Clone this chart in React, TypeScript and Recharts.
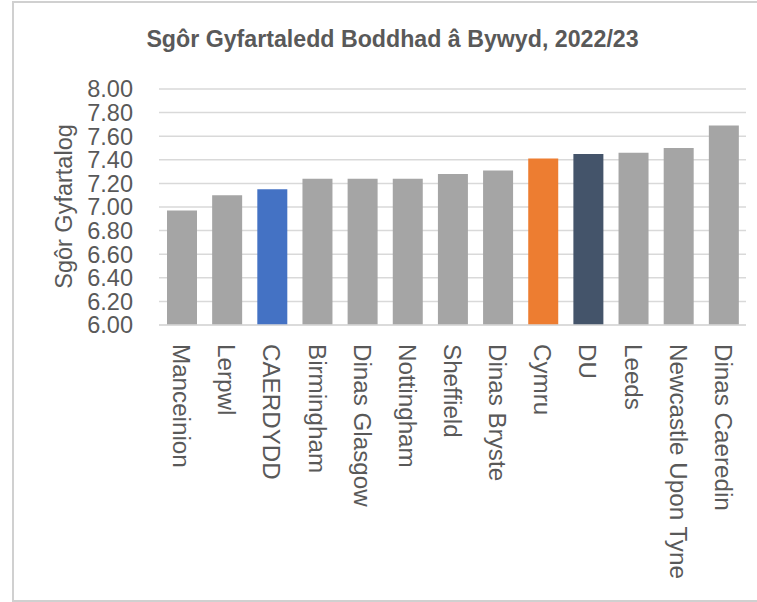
import React from 'react';
import { BarChart, Bar, XAxis, YAxis, CartesianGrid, Cell } from 'recharts';

const categories = [
  'Manceinion', 'Lerpwl', 'CAERDYDD', 'Birmingham', 'Dinas Glasgow', 'Nottingham',
  'Sheffield', 'Dinas Bryste', 'Cymru', 'DU', 'Leeds', 'Newcastle Upon Tyne', 'Dinas Caeredin',
];
const scores = [6.97, 7.10, 7.15, 7.24, 7.24, 7.24, 7.28, 7.31, 7.41, 7.45, 7.46, 7.50, 7.69];
const barColors = [
  '#A5A5A5', '#A5A5A5', '#4472C4', '#A5A5A5', '#A5A5A5', '#A5A5A5',
  '#A5A5A5', '#A5A5A5', '#ED7D31', '#44546A', '#A5A5A5', '#A5A5A5', '#A5A5A5',
];
const yTicks = [6.0, 6.2, 6.4, 6.6, 6.8, 7.0, 7.2, 7.4, 7.6, 7.8, 8.0];
const chartTitle = 'Sgôr Gyfartaledd Boddhad â Bywyd, 2022/23';
const yAxisTitle = 'Sgôr Gyfartalog';

const data = categories.map((name, i) => ({ name, value: scores[i], color: barColors[i] }));

const FONT = '"Liberation Sans", Arial, sans-serif';
const TEXT = '#595959';

const XTick = (props: any) => {
  const { x, y, payload } = props;
  return (
    <text
      transform={`translate(${x},${y}) rotate(90)`}
      x={0}
      y={0}
      dy="0.35em"
      textAnchor="start"
      fontFamily={FONT}
      fontSize={24.2}
      fill={TEXT}
    >
      {payload.value}
    </text>
  );
};

const YTick = (props: any) => {
  const { x, y, payload } = props;
  return (
    <text x={x} y={y} dy="0.36em" textAnchor="end" fontFamily={FONT} fontSize={23.5} fill={TEXT}>
      {Number(payload.value).toFixed(2)}
    </text>
  );
};

export default function App() {
  return (
    <div style={{ position: 'absolute', left: 0, top: 0, width: 757, height: 602, background: '#fff' }}>
      <BarChart
        width={757}
        height={602}
        data={data}
        margin={{ top: 89, right: 11, bottom: 0, left: 0 }}
        barSize={30}
      >
        <CartesianGrid vertical={false} stroke="#D9D9D9" strokeWidth={1.5} />
        <XAxis
          dataKey="name"
          height={277}
          interval={0}
          tickLine={false}
          tickSize={0}
          tickMargin={19}
          axisLine={{ stroke: '#D9D9D9', strokeWidth: 1.5 }}
          tick={<XTick />}
        />
        <YAxis
          width={159}
          domain={[6, 8]}
          ticks={yTicks}
          interval={0}
          axisLine={false}
          tickLine={false}
          tickSize={0}
          tickMargin={26}
          tick={<YTick />}
          label={{
            content: () => (
              <text
                transform="translate(72,206.5) rotate(-90)"
                x={0}
                y={0}
                textAnchor="middle"
                fontFamily={FONT}
                fontSize={23.5}
                fill={TEXT}
              >
                {yAxisTitle}
              </text>
            ),
          }}
        />
        <Bar dataKey="value" isAnimationActive={false}>
          {data.map((d, i) => (
            <Cell key={i} fill={d.color} />
          ))}
        </Bar>
      </BarChart>
      <svg
        width={757}
        height={602}
        style={{ position: 'absolute', left: 0, top: 0, pointerEvents: 'none' }}
      >
        <rect x={13} y={2} width={800} height={599} fill="none" stroke="#D0D0D0" strokeWidth={2} />
        <text
          x={392.5}
          y={47}
          textAnchor="middle"
          fontFamily={FONT}
          fontWeight="bold"
          fontSize={23.2}
          fill={TEXT}
        >
          {chartTitle}
        </text>
      </svg>
    </div>
  );
}
